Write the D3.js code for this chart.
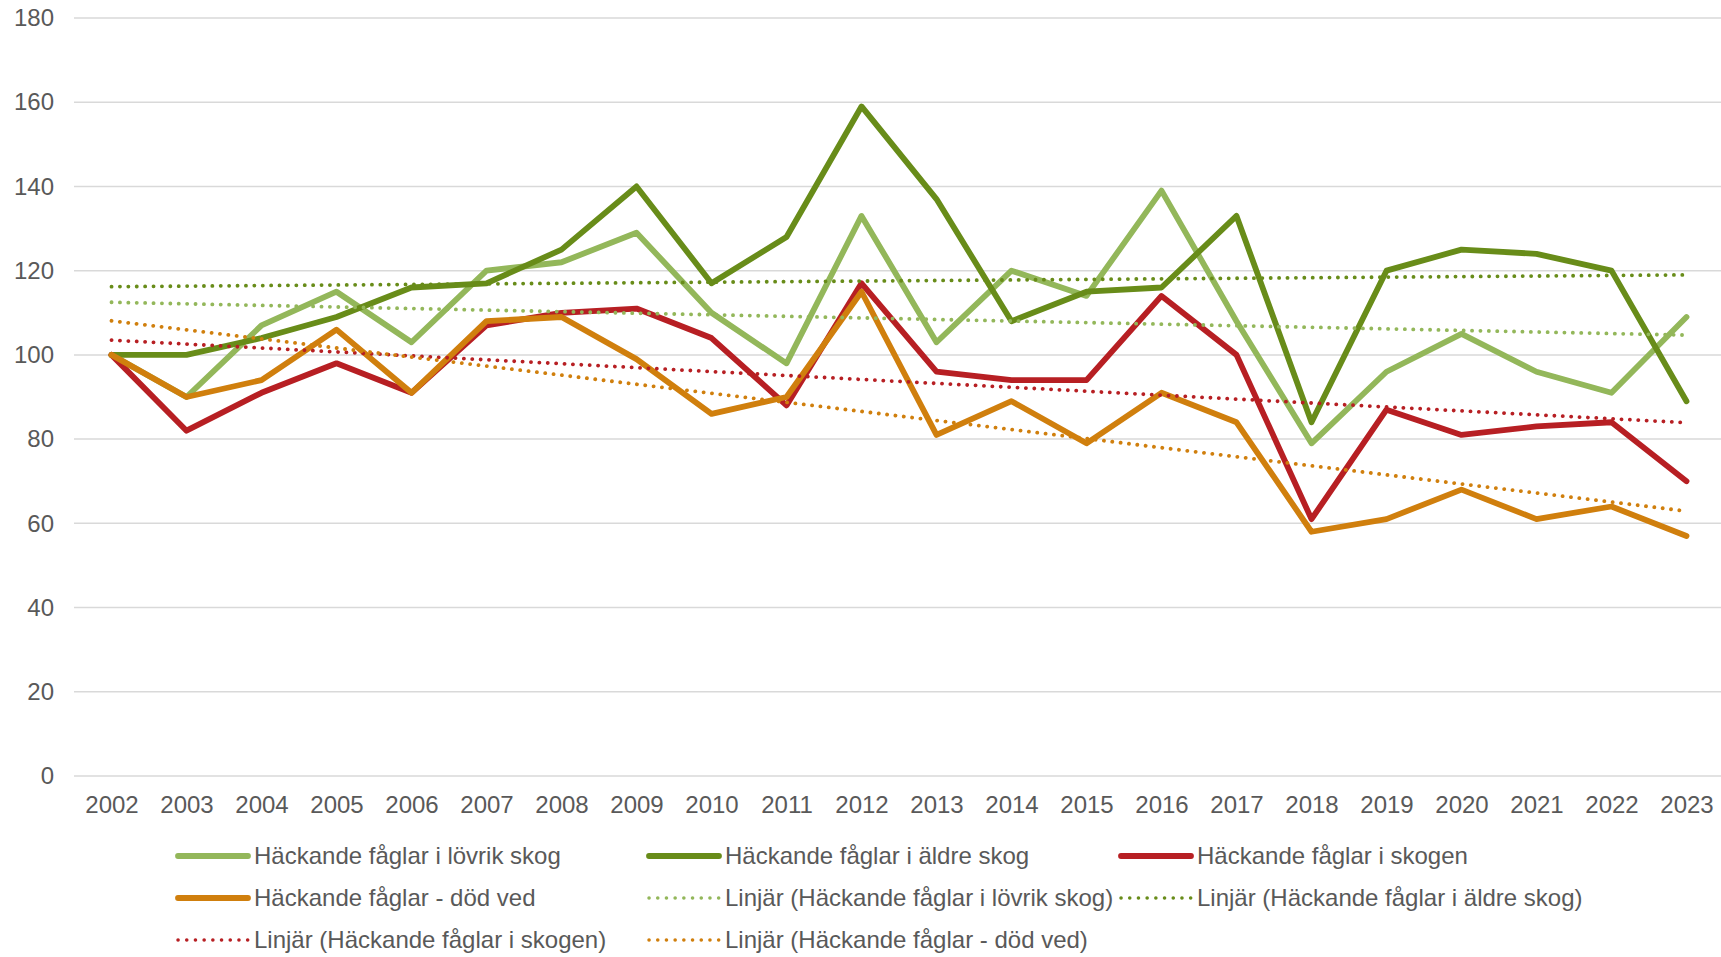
<!DOCTYPE html>
<html>
<head>
<meta charset="utf-8">
<script src="https://cdn.jsdelivr.net/npm/d3@7"></script>
<style>
  html, body { margin: 0; padding: 0; background: #ffffff; }
  svg { display: block; }
  text { font-family: "Liberation Sans", Arial, sans-serif; fill: #595959; }
</style>
</head>
<body>
<svg id="chart" width="1721" height="957"></svg>
<script>
// ---- Data ----
const years = [2002,2003,2004,2005,2006,2007,2008,2009,2010,2011,2012,2013,2014,2015,2016,2017,2018,2019,2020,2021,2022,2023];
const lovrik = [100,90,107,115,103,120,122,129,110,98,133,103,120,114,139,108,79,96,105,96,91,109];
const aldre  = [100,100,104,109,116,117,125,140,117,128,159,137,108,115,116,133,84,120,125,124,120,89];
const skogen = [100,82,91,98,91,107,110,111,104,88,117,96,94,94,114,100,61,87,81,83,84,70];
const dodVed = [100,90,94,106,91,108,109,99,86,90,115,81,89,79,91,84,58,61,68,61,64,57];
// linear trend values at first and last year
const trendLovrik = [112.5, 104.7];
const trendAldre  = [116.2, 119.0];
const trendSkogen = [103.5, 83.9];
const trendDodVed = [108.1, 62.9];
const yTicks = [0,20,40,60,80,100,120,140,160,180];
const seriesNames = ["Häckande fåglar i lövrik skog","Häckande fåglar i äldre skog","Häckande fåglar i skogen","Häckande fåglar - död ved"];
const trendNames = ["Linjär (Häckande fåglar i lövrik skog)","Linjär (Häckande fåglar i äldre skog)","Linjär (Häckande fåglar i skogen)","Linjär (Häckande fåglar - död ved)"];
const colors = ["#93b75a","#688c19","#b71f23","#d07f0d"];

// ---- Layout ----
const svg = d3.select("#chart");
const x = d3.scalePoint().domain(years).range([74, 1724]).padding(0.5);
const y = d3.scaleLinear().domain([0, 180]).range([776, 18]);
const FS = 24;

// gridlines
svg.append("g").selectAll("line").data(yTicks).join("line")
  .attr("x1", 74).attr("x2", 1721)
  .attr("y1", d => y(d)).attr("y2", d => y(d))
  .attr("stroke", "#d9d9d9").attr("stroke-width", 1.5);

// y axis labels
const yAxis = d3.axisLeft(y).tickValues(yTicks).tickSize(0).tickPadding(0);
const gy = svg.append("g").attr("transform", "translate(54,0)").call(yAxis);
gy.select(".domain").remove();
gy.selectAll("text").attr("font-size", FS).attr("fill", "#595959")
  .style("font-family", '"Liberation Sans", Arial, sans-serif');

// x axis labels
const xAxis = d3.axisBottom(x).tickSize(0).tickPadding(0);
const gx = svg.append("g").attr("transform", "translate(0,796)").call(xAxis);
gx.select(".domain").remove();
gx.selectAll("text").attr("font-size", FS).attr("fill", "#595959")
  .style("font-family", '"Liberation Sans", Arial, sans-serif');

// series lines
const series = [lovrik, aldre, skogen, dodVed];
const line = d3.line().x((d, i) => x(years[i])).y(d => y(d));
svg.append("g").selectAll("path").data(series).join("path")
  .attr("d", d => line(d))
  .attr("fill", "none")
  .attr("stroke", (d, i) => colors[i])
  .attr("stroke-width", 5.8)
  .attr("stroke-linejoin", "round")
  .attr("stroke-linecap", "round");

// trend lines
const trends = [trendLovrik, trendAldre, trendSkogen, trendDodVed];
const trendYears = [years[0], years[years.length - 1]];
const tline = d3.line().x((d, i) => x(trendYears[i])).y(d => y(d));
svg.append("g").selectAll("path").data(trends).join("path")
  .attr("d", d => tline(d))
  .attr("fill", "none")
  .attr("stroke", (d, i) => colors[i])
  .attr("stroke-width", 3.8)
  .attr("stroke-linecap", "round")
  .attr("stroke-dasharray", "0.1 8.3");

// legend
const legendItems = [
  {name: seriesNames[0], color: colors[0], dotted: false},
  {name: seriesNames[1], color: colors[1], dotted: false},
  {name: seriesNames[2], color: colors[2], dotted: false},
  {name: seriesNames[3], color: colors[3], dotted: false},
  {name: trendNames[0], color: colors[0], dotted: true},
  {name: trendNames[1], color: colors[1], dotted: true},
  {name: trendNames[2], color: colors[2], dotted: true},
  {name: trendNames[3], color: colors[3], dotted: true}
];
const colX = [178, 649, 1121];
const rowY = [856, 898, 940];
const lg = svg.append("g").selectAll("g").data(legendItems).join("g")
  .attr("transform", (d, i) => `translate(${colX[i % 3]},${rowY[Math.floor(i / 3)]})`);
lg.append("line")
  .attr("x1", 0).attr("x2", 70).attr("y1", 0).attr("y2", 0)
  .attr("stroke", d => d.color)
  .attr("stroke-width", d => d.dotted ? 3.5 : 5.8)
  .attr("stroke-linecap", "round")
  .attr("stroke-dasharray", d => d.dotted ? "0.1 8.6" : null);
lg.append("text")
  .attr("x", 76).attr("y", 0).attr("dy", "0.35em")
  .attr("font-size", FS)
  .text(d => d.name);
</script>
</body>
</html>
